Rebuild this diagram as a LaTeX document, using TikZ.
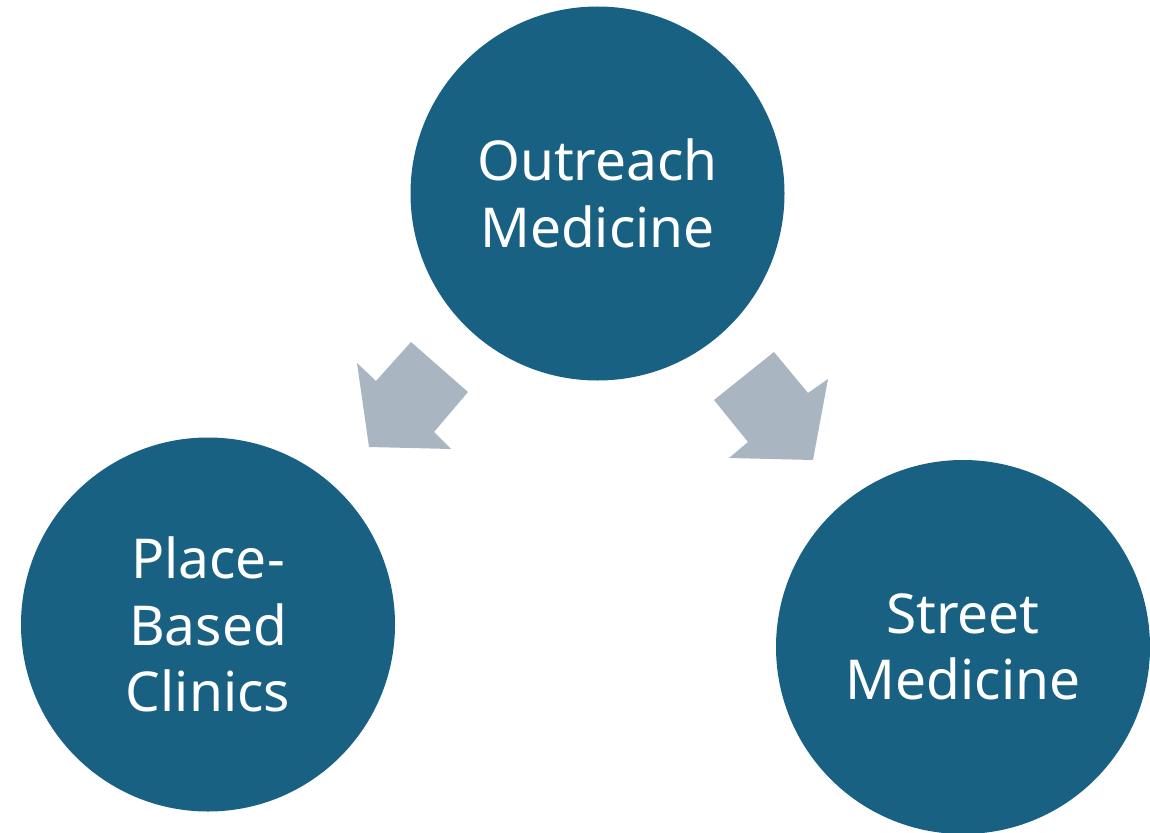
\documentclass[tikz,border=0pt]{standalone}
\usepackage{fontspec}
\setmainfont{Noto Sans}
\definecolor{hub}{RGB}{25,97,131}
\definecolor{flow}{RGB}{169,181,193}
\begin{document}
\begin{tikzpicture}[x=1pt,y=-1pt,
  topic/.style={circle,fill=hub,inner sep=0pt,minimum size=374pt,
    text=white,align=center,font=\fontsize{55}{66.5}\selectfont},
  blockarrow/.style={fill=flow}]
\useasboundingbox (0,0) rectangle (1150,832);
\node[topic] (outreach) at (597.5,193.5) {Outreach\\Medicine};
\node[topic] (place) at (208,624.5) {Place-\\Based\\Clinics};
\node[topic] (street) at (963,647) {Street\\Medicine};
% block arrows from the outreach hub to the two service types
\fill[blockarrow] (411,342) -- (468,392) -- (434,432) -- (451,449)
  -- (369,447) -- (357,363) -- (376,381) -- cycle;
\fill[blockarrow] (774,352) -- (808,393) -- (828,379) -- (813,460)
  -- (729,458) -- (748,442) -- (714,400) -- cycle;
\end{tikzpicture}
\end{document}
